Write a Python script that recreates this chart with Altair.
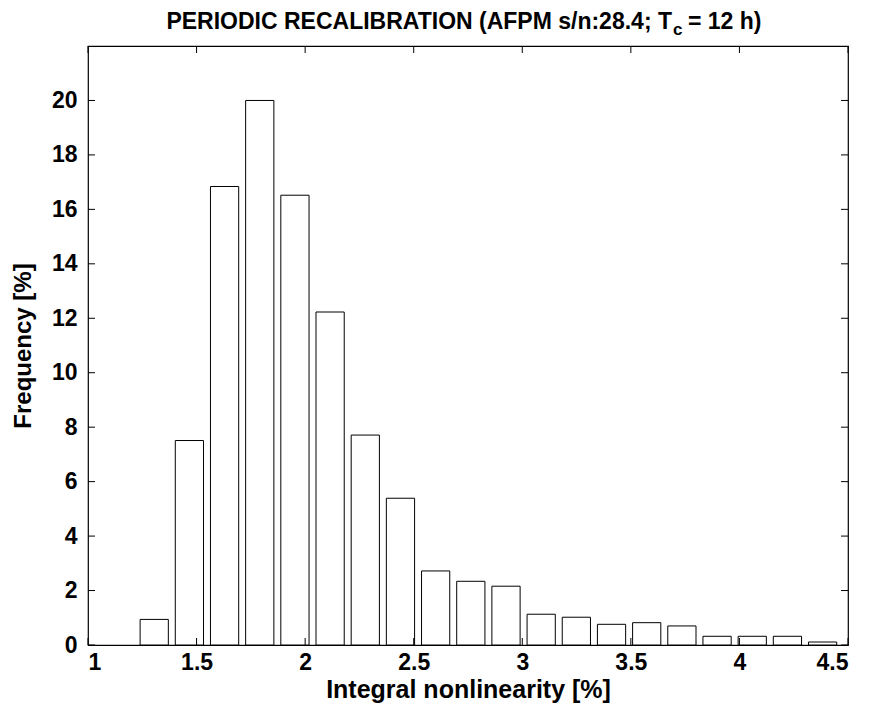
import altair as alt
import pandas as pd

# Histogram data (bin centres in %, frequency in %)
centers = [1.305, 1.467, 1.629, 1.791, 1.953, 2.115, 2.277, 2.439, 2.601, 2.763,
           2.925, 3.087, 3.249, 3.411, 3.573, 3.735, 3.897, 4.059, 4.221, 4.383]
freq = [0.94, 7.51, 16.84, 20.0, 16.52, 12.23, 7.71, 5.39, 2.72, 2.34,
        2.16, 1.13, 1.02, 0.76, 0.82, 0.70, 0.32, 0.32, 0.32, 0.11]
bar_width = 0.13

x_ticks = [1, 1.5, 2, 2.5, 3, 3.5, 4, 4.5]
y_ticks = [0, 2, 4, 6, 8, 10, 12, 14, 16, 18, 20]

W, H = 760, 599
FONT = "Liberation Sans"
LFS = 23
AFS = 24
XFS = 25
TFS = 23

df = pd.DataFrame({
    "left": [c - bar_width / 2 for c in centers],
    "right": [c + bar_width / 2 for c in centers],
    "freq": freq,
})
xt = pd.DataFrame({"x": x_ticks})
yt = pd.DataFrame({"y": y_ticks})

xscale = alt.Scale(domain=[1, 4.5], nice=False, zero=False)
yscale = alt.Scale(domain=[0, 22], nice=False)

bars = alt.Chart(df).mark_bar(fill="white", stroke="black", strokeWidth=1).encode(
    x=alt.X("left:Q", scale=xscale,
            axis=alt.Axis(values=x_ticks, title="Integral nonlinearity [%]", tickSize=0,
                          domain=False, grid=False, labelPadding=6, titlePadding=3,
                          titleFontSize=XFS, format="~g")),
    x2="right:Q",
    y=alt.Y("freq:Q", scale=yscale,
            axis=alt.Axis(values=y_ticks, title="Frequency [%]", tickSize=0,
                          domain=False, grid=False, labelPadding=11, titlePadding=16)),
    y2=alt.datum(0),
)

tick_len = 7
xb = alt.Chart(xt).mark_rule(color="black").encode(
    x=alt.X("x:Q", scale=xscale), y=alt.value(H), y2=alt.value(H - tick_len))
xtp = alt.Chart(xt).mark_rule(color="black").encode(
    x=alt.X("x:Q", scale=xscale), y=alt.value(0), y2=alt.value(tick_len))
yl = alt.Chart(yt).mark_rule(color="black").encode(
    y=alt.Y("y:Q", scale=yscale), x=alt.value(0), x2=alt.value(tick_len))
yr = alt.Chart(yt).mark_rule(color="black").encode(
    y=alt.Y("y:Q", scale=yscale), x=alt.value(W), x2=alt.value(W - tick_len))

title_main = alt.Chart(pd.DataFrame({"t": ["PERIODIC RECALIBRATION (AFPM s/n:28.4; T"]})).mark_text(
    align="right", baseline="alphabetic", font=FONT, fontSize=TFS, fontWeight="bold", color="black"
).encode(text="t:N", x=alt.value(584), y=alt.value(-17))
title_sub = alt.Chart(pd.DataFrame({"t": ["c"]})).mark_text(
    align="left", baseline="alphabetic", font=FONT, fontSize=17, fontWeight="bold", color="black"
).encode(text="t:N", x=alt.value(585), y=alt.value(-11))
title_end = alt.Chart(pd.DataFrame({"t": ["= 12 h)"]})).mark_text(
    align="left", baseline="alphabetic", font=FONT, fontSize=TFS, fontWeight="bold", color="black"
).encode(text="t:N", x=alt.value(600), y=alt.value(-17))

chart = alt.layer(bars, xb, xtp, yl, yr, title_main, title_sub, title_end).properties(
    width=W, height=H,
    autosize=alt.AutoSizeParams(type="none"),
    padding={"left": 80, "top": 38, "right": 10, "bottom": 58},
    background="white",
).configure_view(stroke="black", strokeWidth=1.2).configure_axis(
    labelFont=FONT, titleFont=FONT, labelFontSize=LFS, titleFontSize=AFS,
    labelFontWeight="bold", titleFontWeight="bold", labelColor="black", titleColor="black",
)

chart.save("out.html", embed_options={"renderer": "svg", "actions": False})
